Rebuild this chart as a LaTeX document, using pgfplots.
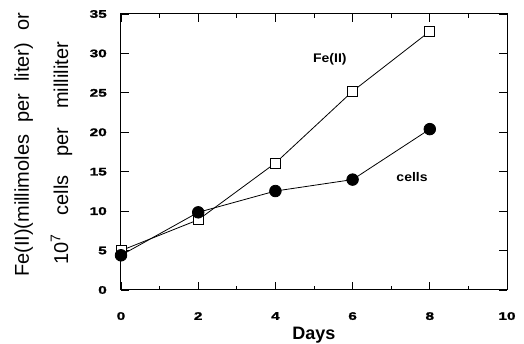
\documentclass[border=0pt]{standalone}
\usepackage{fontspec}
\setmainfont{Liberation Sans}
\newfontfamily\tickfont[FakeStretch=1.4, FakeBold=1.5]{Liberation Sans Bold}
\newfontfamily\lblfont[FakeStretch=1.12]{Liberation Sans Bold}
\usepackage{pgfplots}
\pgfplotsset{compat=1.18}
\usetikzlibrary{calc}
\begin{document}
\begin{tikzpicture}
\begin{axis}[
  scale only axis,
  width=386pt, height=276pt,
  xmin=0, xmax=10, ymin=0, ymax=35,
  xtick={0,2,4,6,8,10},
  minor x tick num=1,
  ytick={0,5,10,15,20,25,30,35},
  major tick length=8pt,
  minor tick length=4pt,
  tick style={black, line width=0.8pt},
  axis line style={line width=1pt},
  /pgf/number format/assume math mode=true,
  xticklabel style={font=\tickfont\fontsize{11}{12}\selectfont, inner sep=0pt, anchor=north, yshift=-22pt},
  yticklabel style={font=\tickfont\fontsize{11}{12}\selectfont, inner sep=0pt, anchor=east, xshift=-14pt},
  xlabel={Days},
  xlabel style={font=\bfseries\fontsize{18}{20}\selectfont, inner sep=0pt, at={(axis description cs:0.5,0)}, anchor=base, yshift=-50pt},
  clip=false,
]
\addplot[black, line width=0.8pt, mark=square*, mark size=5pt, mark options={fill=white, line width=0.8pt}]
  coordinates {(0,5.0) (2,8.9) (4,16.1) (6,25.2) (8,32.8)};
\addplot[black, line width=0.8pt, mark=*, mark size=5.8pt, mark options={fill=black}]
  coordinates {(0,4.4) (2,9.85) (4,12.55) (6,14.0) (8,20.4)};
\node[font=\lblfont\fontsize{12.5}{14}\selectfont] at (axis cs:5.41,29.3) {Fe(II)};
\node[font=\lblfont\fontsize{12.5}{14}\selectfont] at (axis cs:7.54,14.3) {cells};
\coordinate (O) at (rel axis cs:0,0);
\end{axis}
\node[rotate=90, anchor=base, inner sep=0pt, font=\fontsize{20}{22}\selectfont] at ($(O)+(-92pt,145pt)$)
  {\makebox[264pt][s]{Fe(II)(millimoles per liter) or}};
\node[rotate=90, anchor=base, inner sep=0pt, font=\fontsize{20}{22}\selectfont] at ($(O)+(-53pt,136.5pt)$)
  {\makebox[223pt][s]{10$^{\mathrm{7}}$ cells per milliliter}};
\path ($(O)+(-121pt,-54pt)$) rectangle ++(524pt,344pt);
\end{tikzpicture}
\end{document}
